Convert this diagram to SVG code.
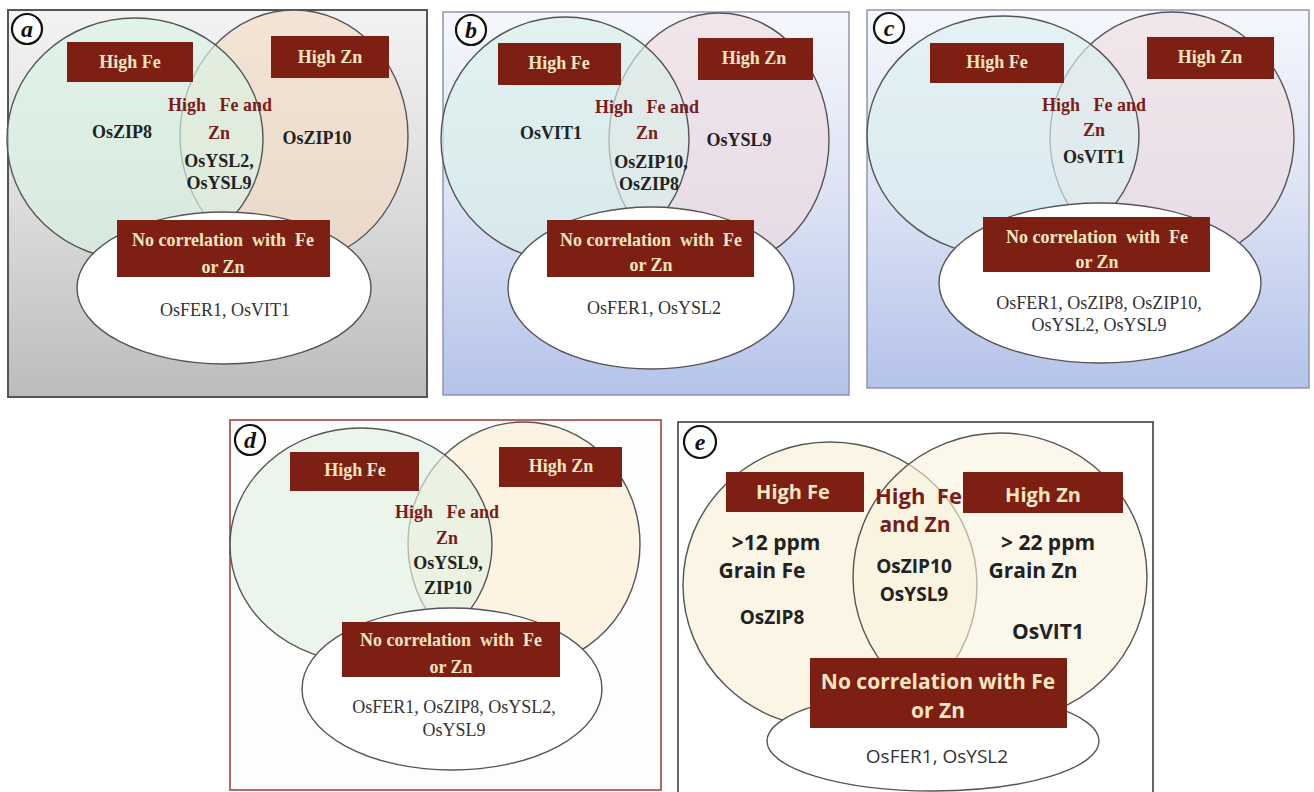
<svg xmlns="http://www.w3.org/2000/svg" width="1314" height="792" viewBox="0 0 1314 792">
<defs>
<linearGradient id="gA" x1="0" y1="0" x2="0" y2="1"><stop offset="0" stop-color="#f3f3f3"/><stop offset="0.5" stop-color="#dcdcdc"/><stop offset="1" stop-color="#bcbcbc"/></linearGradient>
<linearGradient id="gB" x1="0" y1="0" x2="0" y2="1"><stop offset="0" stop-color="#f5f7fc"/><stop offset="0.5" stop-color="#dbe2f4"/><stop offset="1" stop-color="#b5c3ea"/></linearGradient>
<style>
.cs{stroke:#555;stroke-width:1.4}
.ov{fill:#fff;stroke:#555;stroke-width:1.4}
.box{fill:#7e1f13}
.s{font-family:"Liberation Serif",serif;font-size:18px;text-anchor:middle}
.bt{font-weight:bold;fill:#f6e6c2}
.rt{font-weight:bold;fill:#7a1c1c}
.gt{font-weight:bold;fill:#222}
.nt{fill:#333}
.s.bt,.s.rt,.s.gt{transform:scaleY(1.1);transform-box:fill-box;transform-origin:50% 80%}
.e{font-family:"Open Sans","Liberation Sans",sans-serif;font-size:21px;text-anchor:middle}
.lab{fill:#fff;stroke:#111;stroke-width:2.2}
.lt{font-family:"Liberation Serif",serif;font-style:italic;font-weight:bold;font-size:24px;text-anchor:middle;fill:#111}
</style>
</defs>
<rect width="1314" height="792" fill="#fff"/>

<!-- Panel a -->
<g id="panel-a">
<rect x="8" y="10" width="419" height="387" fill="url(#gA)" stroke="#555" stroke-width="2"/>
<g id="a-zn"><ellipse cx="294" cy="136" rx="114" ry="126" fill="#f3dcc4" fill-opacity="0.65" class="cs"/></g>
<g id="a-fe"><ellipse cx="135" cy="139" rx="128" ry="121" fill="#d9f2e4" fill-opacity="0.65" class="cs"/></g>
<g id="a-none"><ellipse cx="224" cy="288" rx="147" ry="76" class="ov"/></g>
<g id="a-fe-box"><rect x="67" y="42" width="126" height="40" class="box"/><text x="130" y="68" class="s bt">High Fe</text></g>
<g id="a-zn-box"><rect x="271" y="36" width="118" height="42" class="box"/><text x="330" y="63" class="s bt">High Zn</text></g>
<g id="a-both"><text x="220" y="111" class="s rt" xml:space="preserve">High   Fe and</text><text x="219" y="139" class="s rt">Zn</text>
<text x="219" y="167" class="s gt">OsYSL2,</text><text x="219" y="189" class="s gt">OsYSL9</text></g>
<text x="122" y="138" class="s gt">OsZIP8</text>
<text x="317" y="144" class="s gt">OsZIP10</text>
<g id="a-none-box"><rect x="117" y="220" width="213" height="57" class="box"/><text x="223" y="246" class="s bt" xml:space="preserve">No correlation  with  Fe</text><text x="223" y="273" class="s bt">or Zn</text></g>
<text x="225" y="316" class="s nt">OsFER1, OsVIT1</text>
<g id="a-label"><circle cx="27" cy="29" r="15" class="lab"/><text x="27" y="37" class="lt">a</text></g>
</g>

<!-- Panel b -->
<g id="panel-b">
<rect x="443" y="12" width="406" height="383" fill="url(#gB)" stroke="#8d96b2" stroke-width="1.5"/>
<g id="b-zn"><ellipse cx="719" cy="140" rx="110" ry="127" fill="#efdbe0" fill-opacity="0.65" class="cs"/></g>
<g id="b-fe"><ellipse cx="565" cy="139" rx="124" ry="122" fill="#d8f0ea" fill-opacity="0.65" class="cs"/></g>
<g id="b-none"><ellipse cx="651" cy="288" rx="143" ry="81" class="ov"/></g>
<g id="b-fe-box"><rect x="498" y="43" width="123" height="42" class="box"/><text x="559" y="69" class="s bt">High Fe</text></g>
<g id="b-zn-box"><rect x="698" y="38" width="115" height="42" class="box"/><text x="754" y="64" class="s bt">High Zn</text></g>
<g id="b-both"><text x="647" y="113" class="s rt" xml:space="preserve">High   Fe and</text><text x="647" y="139" class="s rt">Zn</text>
<text x="651" y="168" class="s gt">OsZIP10,</text><text x="649" y="190" class="s gt">OsZIP8</text></g>
<text x="551" y="139" class="s gt">OsVIT1</text>
<text x="739" y="146" class="s gt">OsYSL9</text>
<g id="b-none-box"><rect x="547" y="220" width="207" height="57" class="box"/><text x="651" y="246" class="s bt" xml:space="preserve">No correlation  with  Fe</text><text x="651" y="271" class="s bt">or Zn</text></g>
<text x="654" y="314" class="s nt">OsFER1, OsYSL2</text>
<g id="b-label"><circle cx="471" cy="30" r="15" class="lab"/><text x="471" y="38" class="lt">b</text></g>
</g>

<!-- Panel c -->
<g id="panel-c">
<rect x="867" y="10" width="442" height="378" fill="url(#gB)" stroke="#8d96b2" stroke-width="1.5"/>
<g id="c-zn"><ellipse cx="1172" cy="138" rx="122" ry="126" fill="#f0dde0" fill-opacity="0.65" class="cs"/></g>
<g id="c-fe"><ellipse cx="1003" cy="136" rx="136" ry="120" fill="#dceff0" fill-opacity="0.65" class="cs"/></g>
<g id="c-none"><ellipse cx="1100" cy="283" rx="161" ry="80" class="ov"/></g>
<g id="c-fe-box"><rect x="930" y="43" width="134" height="40" class="box"/><text x="997" y="68" class="s bt">High Fe</text></g>
<g id="c-zn-box"><rect x="1147" y="37" width="127" height="42" class="box"/><text x="1210" y="63" class="s bt">High Zn</text></g>
<g id="c-both"><text x="1094" y="111" class="s rt" xml:space="preserve">High   Fe and</text><text x="1094" y="136" class="s rt">Zn</text>
<text x="1094" y="163" class="s gt">OsVIT1</text></g>
<g id="c-none-box"><rect x="983" y="217" width="227" height="55" class="box"/><text x="1097" y="243" class="s bt" xml:space="preserve">No correlation  with  Fe</text><text x="1097" y="268" class="s bt">or Zn</text></g>
<text x="1099" y="309" class="s nt">OsFER1, OsZIP8, OsZIP10,</text>
<text x="1099" y="331" class="s nt">OsYSL2, OsYSL9</text>
<g id="c-label"><circle cx="889" cy="28" r="15" class="lab"/><text x="889" y="36" class="lt">c</text></g>
</g>

<!-- Panel d -->
<g id="panel-d">
<rect x="230" y="420" width="431" height="370" fill="#fdfdfd" stroke="#b46868" stroke-width="2"/>
<g id="d-zn"><ellipse cx="524" cy="544" rx="116" ry="122" fill="#fcf0dc" fill-opacity="0.8" class="cs"/></g>
<g id="d-fe"><ellipse cx="361" cy="545" rx="131" ry="117" fill="#e4f1e2" fill-opacity="0.65" class="cs"/></g>
<g id="d-none"><ellipse cx="452" cy="689" rx="150" ry="81" class="ov"/></g>
<g id="d-fe-box"><rect x="290" y="452" width="129" height="39" class="box"/><text x="355" y="476" class="s bt">High Fe</text></g>
<g id="d-zn-box"><rect x="499" y="447" width="123" height="40" class="box"/><text x="561" y="472" class="s bt">High Zn</text></g>
<g id="d-both"><text x="447" y="518" class="s rt" xml:space="preserve">High   Fe and</text><text x="447" y="544" class="s rt">Zn</text>
<text x="448" y="569" class="s gt">OsYSL9,</text><text x="448" y="594" class="s gt">ZIP10</text></g>
<g id="d-none-box"><rect x="342" y="622" width="218" height="55" class="box"/><text x="451" y="646" class="s bt" xml:space="preserve">No correlation  with  Fe</text><text x="451" y="673" class="s bt">or Zn</text></g>
<text x="454" y="713" class="s nt">OsFER1, OsZIP8, OsYSL2,</text>
<text x="454" y="736" class="s nt">OsYSL9</text>
<g id="d-label"><circle cx="250" cy="440" r="15" class="lab"/><text x="250" y="448" class="lt">d</text></g>
</g>

<!-- Panel e -->
<g id="panel-e">
<rect x="678" y="422" width="475" height="380" fill="#fff" stroke="#333" stroke-width="1.5"/>
<g id="e-fe"><ellipse cx="830" cy="585" rx="147" ry="143" fill="#f9f3dd" fill-opacity="0.8" class="cs"/></g>
<g id="e-zn"><ellipse cx="1000" cy="577" rx="147" ry="144" fill="#f9f3dd" fill-opacity="0.6" class="cs"/></g>
<g id="e-none"><ellipse cx="933" cy="741" rx="166" ry="50" class="ov"/></g>
<g id="e-fe-box"><rect x="726" y="472" width="138" height="40" class="box"/><text x="793" y="499" class="e bt" style="font-size:20px">High Fe</text></g>
<g id="e-both"><text x="875" y="504" class="e rt" style="text-anchor:start;font-size:22px" xml:space="preserve">High  Fe</text><text x="915" y="532" class="e rt">and Zn</text>
<text x="914" y="573" class="e gt" style="font-size:19px">OsZIP10</text><text x="914" y="601" class="e gt" style="font-size:19px">OsYSL9</text></g>
<g id="e-zn-box"><rect x="963" y="472" width="160" height="41" class="box"/><text x="1043" y="502" class="e bt" style="font-size:20px">High Zn</text></g>
<text x="776" y="550" class="e gt">&gt;12 ppm</text>
<text x="762" y="578" class="e gt">Grain Fe</text>
<text x="772" y="624" class="e gt" style="font-size:19px">OsZIP8</text>
<text x="1048" y="550" class="e gt">&gt; 22 ppm</text>
<text x="1033" y="578" class="e gt">Grain Zn</text>
<text x="1048" y="639" class="e gt">OsVIT1</text>
<g id="e-none-box"><rect x="810" y="658" width="257" height="70" class="box"/><text x="938" y="689" class="e bt">No correlation with Fe</text><text x="938" y="718" class="e bt">or Zn</text></g>
<text x="937" y="763" class="e nt" style="font-size:19px">OsFER1, OsYSL2</text>
<g id="e-label"><circle cx="700" cy="442" r="16" class="lab"/><text x="700" y="450" class="lt">e</text></g>
</g>
</svg>
